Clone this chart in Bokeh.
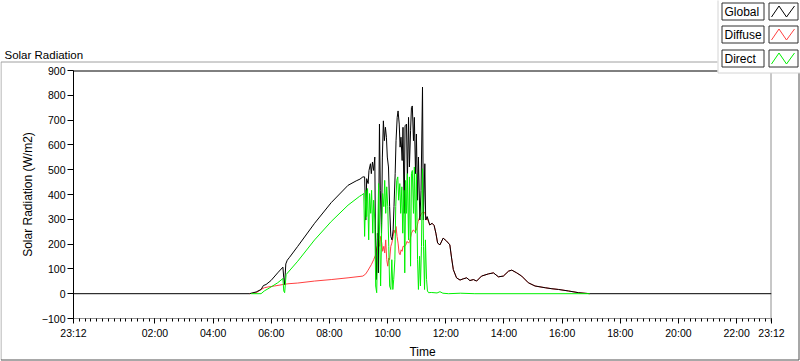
from bokeh.plotting import figure
from bokeh.models import Range1d, FixedTicker
from bokeh.core.properties import value
from bokeh.embed import file_html
from bokeh.resources import INLINE

FONT = "Liberation Sans"

# ---- data (time in hours since midnight, values in W/m2) ----
global_t = [-0.8, 5.25, 5.48, 5.65, 5.73, 5.82, 5.99, 6.22, 6.40, 6.43, 6.46, 6.50, 6.55, 6.63,
            6.91, 7.49, 8.06, 8.64, 8.92, 9.05, 9.15, 9.21, 9.25, 9.28, 9.33, 9.36, 9.41, 9.44,
            9.48, 9.52, 9.56, 9.58, 9.61, 9.65, 9.68, 9.72, 9.75, 9.79, 9.82, 9.855, 9.89, 9.925,
            9.96, 9.99, 10.03, 10.07, 10.11, 10.15, 10.19, 10.22, 10.26, 10.29, 10.33, 10.36,
            10.40, 10.43, 10.46, 10.50, 10.53, 10.57, 10.60, 10.65, 10.68, 10.72, 10.75, 10.79,
            10.82, 10.85, 10.89, 10.92, 10.96, 10.99, 11.03, 11.06, 11.11, 11.15, 11.20, 11.23,
            11.28, 11.31, 11.36, 11.45, 11.53, 11.60, 11.66, 11.72, 11.80, 11.91, 12.03, 12.14,
            12.20, 12.26, 12.37, 12.49, 12.60, 12.72, 12.83, 12.95, 13.06, 13.23, 13.47, 13.64,
            13.81, 13.98, 14.16, 14.27, 14.44, 14.61, 14.84, 15.07, 15.42, 15.65, 15.88, 16.22,
            16.57, 16.86, 16.95, 23.2]
global_v = [0, 0, 7, 17, 33, 37, 53, 84, 107, 64, 37, 120, 135, 147,
            191, 284, 367, 437, 455, 462, 471, 471, 297, 464, 444, 497, 524, 484,
            531, 497, 551, 257, 57, 244, 84, 684, 417, 244, 551, 697, 617, 671,
            631, 551, 511, 351, 231, 217, 257, 351, 484, 617, 711, 737,
            684, 591, 631, 537, 671, 324, 677, 684, 457, 711, 511, 657,
            751, 757, 617, 711, 484, 644, 377, 551, 297, 417, 833, 297,
            524, 297, 311, 277, 284, 275, 244, 204, 197, 224, 212, 197,
            144, 97, 64, 55, 60, 64, 53, 57, 51, 71, 80, 84,
            68, 71, 91, 95, 84, 71, 44, 31, 24, 20, 17, 11,
            4, 1, 0, 0]

diffuse_t = [5.25, 5.48, 5.65, 5.76, 5.88, 6.11, 6.40, 6.57, 6.91, 7.49, 8.06, 8.64, 9.15,
             9.25, 9.33, 9.44, 9.52, 9.59, 9.625, 9.66, 9.69, 9.73, 9.76, 9.80, 9.83, 9.87,
             9.90, 9.935, 9.97, 10.005, 10.04, 10.07, 10.11, 10.145, 10.19, 10.22, 10.26,
             10.29, 10.325, 10.36, 10.395, 10.43, 10.465, 10.50, 10.53, 10.58, 10.625, 10.67,
             10.72, 10.76, 10.82, 10.88, 10.94, 10.99, 11.05, 11.11, 11.17, 11.22, 11.28,
             11.34, 11.36, 11.45, 11.53, 11.60, 11.66, 11.72, 11.80, 11.91, 12.03, 12.14,
             12.20, 12.26, 12.37, 12.49, 12.60, 12.72, 12.83, 12.95, 13.06, 13.23, 13.47,
             13.64, 13.81, 13.98, 14.16, 14.27, 14.44, 14.61, 14.84, 15.07, 15.42, 15.65,
             15.88, 16.22, 16.57, 16.86, 16.95]
diffuse_v = [0, 4, 17, 24, 27, 31, 37, 40, 43, 51, 57, 64, 71,
             80, 95, 117, 137, 157, 184, 197, 217, 191, 231, 204, 171, 191,
             164, 217, 137, 111, 144, 137, 191, 204, 231, 257, 244,
             271, 231, 204, 164, 157, 177, 171, 191, 191, 197, 211,
             204, 211, 244, 257, 251, 257, 291, 311, 324, 331, 327,
             297, 305, 277, 284, 275, 244, 204, 197, 224, 212, 197,
             144, 97, 64, 55, 60, 64, 53, 57, 51, 71, 80,
             84, 68, 71, 91, 95, 84, 71, 44, 31, 24, 20,
             17, 11, 4, 1, 0]

direct_t = [5.30, 5.65, 5.76, 5.99, 6.22, 6.40, 6.43, 6.46, 6.51, 6.91, 7.49, 8.06, 8.64, 9.04,
            9.10, 9.18, 9.21, 9.25, 9.28, 9.31, 9.35, 9.38, 9.42, 9.45, 9.49, 9.52, 9.56, 9.59,
            9.625, 9.66, 9.69, 9.73, 9.76, 9.80, 9.83, 9.87, 9.90, 9.935, 9.97, 10.005, 10.04,
            10.07, 10.11, 10.145, 10.18, 10.21, 10.25, 10.28, 10.315, 10.35, 10.38, 10.42,
            10.45, 10.49, 10.52, 10.56, 10.59, 10.625, 10.65, 10.68, 10.72, 10.75, 10.79,
            10.82, 10.85, 10.89, 10.92, 10.96, 10.99, 11.03, 11.06, 11.10, 11.13, 11.165,
            11.20, 11.235, 11.27, 11.30, 11.34, 11.37, 11.41, 11.50, 11.70, 11.80, 11.90,
            12.10, 12.50, 13.00, 16.95]
direct_v = [0, 0, 11, 27, 44, 61, 11, 4, 77, 131, 217, 291, 357, 393,
            397, 404, 231, 417, 311, 424, 217, 404, 324, 417, 244, 377, 297, 31,
            4, 217, 444, 217, 31, 284, 404, 351, 457, 324, 431, 351, 191,
            31, 17, 137, 17, 57, 137, 351, 457, 471, 377, 444,
            324, 431, 244, 417, 84, 457, 324, 484, 217, 471, 111,
            484, 497, 324, 511, 244, 484, 137, 17, 151, 31, 191,
            504, 191, 17, 217, 57, 11, 4, 5, 3, 8, 2,
            0, 2, 0, 0]

x_major = [-0.8, 2, 4, 6, 8, 10, 12, 14, 16, 18, 20, 22, 23.2]
x_labels = ["23:12", "02:00", "04:00", "06:00", "08:00", "10:00", "12:00",
            "14:00", "16:00", "18:00", "20:00", "22:00", "23:12"]
y_ticks = [-100, 0, 100, 200, 300, 400, 500, 600, 700, 800, 900]
series_names = ["Global", "Diffuse", "Direct"]
series_colors = ["#000000", "#ff4040", "#00f000"]
chart_title = "Solar Radiation"

W, H = 800, 361
TOP = 55  # page y where the chart canvas starts (it overlays the panel canvas)

# ---------- panel canvas: frame decorations, title, legend (pixel coordinates) ----------
bg = figure(width=W, height=H, output_backend="svg", toolbar_location=None,
            x_range=Range1d(0, W), y_range=Range1d(H, 0),
            x_axis_location=None, y_axis_location=None,
            min_border=0, min_border_left=0, min_border_right=0,
            min_border_top=0, min_border_bottom=0,
            background_fill_color="white", border_fill_color="white")
bg.outline_line_color = None
bg.xgrid.visible = False
bg.ygrid.visible = False

# outer panel border
bg.line([717, 0.5, 0.5], [61.5, 61.5, 359.5], line_color="#a0a0a0", line_width=1)
bg.line([0.5, 798.5, 798.5], [359.5, 359.5, 72], line_color="#505050", line_width=1)
# plot frame: top (dark) and right (light) edges
bg.line([73, 717], [70.5, 70.5], line_color="black", line_width=1)
bg.line([770.5, 770.5], [72, 321], line_color="#909090", line_width=1)
# title
bg.text(x=[4], y=[54], text=[chart_title], text_font=value(FONT), text_font_size="11.5px",
        text_color="black", text_baseline="alphabetic", text_align="left")
# legend panel
bg.quad(left=[717.5], right=[802], top=[-2], bottom=[72.5], fill_color="white",
        line_color="#d4d4d4", line_width=1)
row_tops = [2.5, 25.5, 49.5]
for name, color, top in zip(series_names, series_colors, row_tops):
    bot = top + 17
    bg.quad(left=[721.5], right=[763.5], top=[top], bottom=[bot], fill_color="white",
            line_color="#303030", line_width=1)
    bg.quad(left=[768.5], right=[797.5], top=[top], bottom=[bot], fill_color="white",
            line_color="#303030", line_width=1)
    bg.text(x=[724], y=[top + 9], text=[name], text_font=value(FONT), text_font_size="12px",
            text_color="black", text_baseline="middle", text_align="left")
    bg.line([771, 778.5, 786, 794], [bot - 3, top + 3, bot - 3, top + 3],
            line_color=color, line_width=1)

# ---------- chart canvas (transparent, laid over the panel) ----------
p = figure(width=W, height=H - TOP, output_backend="svg", toolbar_location=None,
           x_range=Range1d(-0.8, 23.2), y_range=Range1d(-100, 900),
           min_border_left=73, min_border_right=29, min_border_top=70 - TOP,
           min_border_bottom=40, margin=(-(H - TOP), 0, 0, 0))
p.background_fill_alpha = 0
p.border_fill_alpha = 0
p.outline_line_color = None
p.xgrid.visible = False
p.ygrid.visible = False

p.xaxis.ticker = FixedTicker(ticks=x_major,
                             minor_ticks=[round(-0.8 + 0.2 * i, 1) for i in range(121)])
p.xaxis.major_label_overrides = dict(zip(x_major, x_labels))
p.xaxis.axis_label = "Time"
p.yaxis.ticker = FixedTicker(ticks=y_ticks)
p.yaxis.axis_label = "Solar Radiation (W/m2)"
for ax in (p.xaxis[0], p.yaxis[0]):
    ax.major_label_text_font = FONT
    ax.major_label_text_font_size = "10.5px"
    ax.major_label_text_color = "black"
    ax.axis_label_text_font = FONT
    ax.axis_label_text_font_size = "12px"
    ax.axis_label_text_font_style = "normal"
    ax.axis_label_text_color = "black"
    ax.major_tick_in = 0
    ax.minor_tick_in = 0
    ax.major_tick_line_color = "black"
    ax.minor_tick_line_color = "black"
p.yaxis.axis_line_color = "black"
p.yaxis.major_tick_out = 6
p.yaxis.minor_tick_line_color = None
p.yaxis.major_label_standoff = 2
p.yaxis.axis_label_standoff = 4
p.xaxis.axis_line_color = "#909090"
p.xaxis.major_tick_out = 5
p.xaxis.minor_tick_out = 3
p.xaxis.major_label_standoff = 3
p.xaxis.axis_label_standoff = 3

p.line(diffuse_t, diffuse_v, line_color=series_colors[1], line_width=1)
p.line(global_t, global_v, line_color=series_colors[0], line_width=1)
p.line(direct_t, direct_v, line_color=series_colors[2], line_width=1)

# two independent roots: the panel first, the chart laid over it
open("out.html", "w").write(file_html([bg, p], INLINE))
